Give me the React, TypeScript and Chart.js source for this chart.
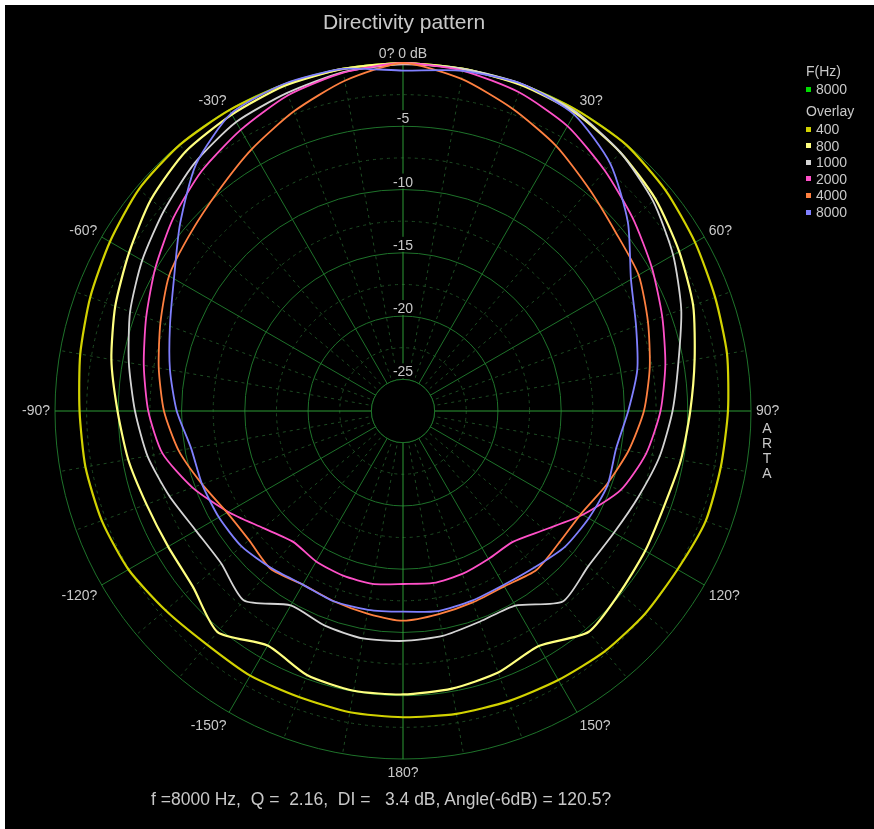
import React, { useEffect, useRef } from 'react';
import { Chart, registerables } from 'chart.js';

Chart.register(...registerables);

// Measurement angles (degrees, clockwise from 0° on-axis)
const ANGLES = [0, 10, 20, 30, 40, 50, 60, 70, 80, 90, 100, 110, 120, 130, 140, 150, 160, 170, 180,
  -170, -160, -150, -140, -130, -120, -110, -100, -90, -80, -70, -60, -50, -40, -30, -20, -10];

// Relative level (dB) per angle for each overlay frequency
const DB_400 = [0, -0.05, -0.05, -0.05, -0.05, -0.4, -0.85, -1.25, -1.5, -1.82, -2.0, -2.05, -2.45, -2.55, -2.7, -2.95, -3.1, -3.2, -3.3,
  -3.33, -3.45, -3.35, -3.4, -3.0, -2.45, -2.17, -2.02, -1.94, -1.6, -1.2, -0.76, -0.25, -0.05, -0.05, -0.05, -0.05];
const DB_800 = [0, -0.05, -0.1, -0.3, -0.8, -1.45, -2.3, -3.1, -4.1, -4.8, -5.2, -5.54, -5.4, -5.15, -4.7, -6.05, -5.5, -5.22, -5.1,
  -5.05, -5.3, -6.1, -4.7, -5.85, -6.07, -5.93, -5.45, -4.94, -4.1, -3.3, -2.5, -1.5, -0.75, -0.45, -0.15, -0.05];
const DB_1000 = [-0.1, -0.05, 0, -0.2, -0.8, -1.7, -2.85, -4.1, -5.4, -6.2, -6.9, -7.7, -8.25, -8.4, -7.85, -9.75, -9.78, -9.45, -9.33,
  -9.25, -9.45, -9.76, -7.95, -8.75, -8.6, -7.85, -7.0, -6.32, -5.5, -4.55, -3.7, -2.85, -1.9, -1.13, -0.75, -0.3];
const DB_2000 = [0, -0.2, -0.7, -1.5, -2.7, -3.8, -4.8, -5.7, -6.45, -7.15, -8.0, -9.2, -11.1, -12.9, -14.0, -14.0, -13.8, -13.7, -13.83,
  -13.63, -13.65, -13.77, -14.0, -13.1, -11.55, -9.8, -8.2, -7.37, -6.7, -5.9, -4.9, -3.8, -2.75, -1.85, -0.95, -0.35];
const DB_4000 = [0, -0.85, -2.1, -3.3, -4.6, -5.55, -6.0, -6.9, -7.7, -8.46, -9.4, -10.4, -11.25, -11.36, -11.1, -11.5, -11.4, -11.2, -10.93,
  -11.25, -11.5, -11.66, -11.22, -11.62, -11.45, -10.6, -9.5, -8.61, -7.9, -7.1, -6.15, -5.6, -4.8, -3.6, -2.3, -1.0];
const DB_8000 = [-0.6, -0.2, 0, -0.45, -2.0, -4.3, -6.7, -7.9, -8.7, -9.7, -10.4, -10.3, -10.55, -10.8, -11.35, -11.62, -11.55, -11.45, -11.64,
  -11.55, -11.5, -11.66, -11.3, -10.85, -10.7, -10.6, -10.5, -9.62, -8.8, -7.9, -6.6, -4.5, -2.05, -0.35, 0, -0.05];

const FREQS = ['400', '800', '1000', '2000', '4000', '8000'];
const SERIES = [DB_400, DB_800, DB_1000, DB_2000, DB_4000, DB_8000];
const COLORS = ['#d2d200', '#ffff80', '#d4d4d4', '#ff50c8', '#ff8040', '#8080ff'];

const CURRENT_FREQ = '8000';
const CURRENT_COLOR = '#00dd00';

const LABEL_ANGLES = [0, 30, 60, 90, 120, 150, 180, -150, -120, -90, -60, -30];
const LABEL_TEXTS = ['0? 0 dB', '30?', '60?', '90?', '120?', '150?', '180?', '-150?', '-120?', '-90?', '-60?', '-30?'];
const TICK_VALUES = [-5, -10, -15, -20, -25];

const R_MIN = -27.5;
const R_MAX = 0;
const R_STEP = 2.5;

const TITLE = 'Directivity pattern';
const FOOTER = 'f =8000 Hz,  Q =  2.16,  DI =   3.4 dB, Angle(-6dB) = 120.5?';
const BRAND = ['A', 'R', 'T', 'A'];

const FONT = '"Liberation Sans", Arial, Helvetica, sans-serif';
const TEXT_COLOR = '#c8c8c8';
const AXIS_GREEN = '#2c9a34';
const MAJOR_GREEN = '#1e722a';
const MINOR_GREEN = '#1d4a22';

const isMajor = (v: number) => Math.abs(Math.round(v / 5) * 5 - v) < 0.01;

const decorPlugin = {
  id: 'polarDecor',
  beforeDatasetsDraw(chart: any) {
    const s = chart.scales.r;
    const ctx = chart.ctx as CanvasRenderingContext2D;
    ctx.save();
    // inner hole at -25 dB
    const r25 = s.getDistanceFromCenterForValue(-25);
    ctx.beginPath();
    ctx.arc(s.xCenter, s.yCenter, r25, 0, Math.PI * 2);
    ctx.fillStyle = '#000';
    ctx.fill();
    ctx.strokeStyle = MAJOR_GREEN;
    ctx.lineWidth = 1;
    ctx.stroke();

    // radial tick labels
    ctx.font = `14px ${FONT}`;
    ctx.textAlign = 'center';
    ctx.textBaseline = 'alphabetic';
    TICK_VALUES.forEach((v) => {
      const y = s.yCenter - s.getDistanceFromCenterForValue(v);
      const t = String(v);
      const w = ctx.measureText(t).width;
      ctx.fillStyle = '#000';
      ctx.fillRect(s.xCenter - w / 2 - 2, y - 16, w + 4, 15);
      ctx.fillStyle = TEXT_COLOR;
      ctx.fillText(t, s.xCenter, y - 3);
    });

    // angle labels
    LABEL_ANGLES.forEach((deg, k) => {
      const idx = ANGLES.indexOf(deg);
      const p = s.getPointPosition(idx, s.drawingArea + 5);
      const a = ((deg % 360) + 360) % 360;
      if (a === 0 || a === 180) ctx.textAlign = 'center';
      else if (a < 180) ctx.textAlign = 'left';
      else ctx.textAlign = 'right';
      let y = p.y;
      if (a === 90 || a === 270) ctx.textBaseline = 'middle';
      else if (a < 90 || a > 270) ctx.textBaseline = 'alphabetic';
      else { ctx.textBaseline = 'top'; y += 2; }
      ctx.fillStyle = TEXT_COLOR;
      ctx.fillText(LABEL_TEXTS[k], p.x, y);
    });
    ctx.restore();
  },
};

function Txt(props: { x: number; cy: number; fs: number; text: string; center?: boolean; color?: string }) {
  const { x, cy, fs, text, center, color } = props;
  return (
    <div
      style={{
        position: 'absolute',
        left: x,
        top: cy - 0.49 * fs,
        fontSize: fs,
        lineHeight: `${fs}px`,
        fontFamily: FONT,
        color: color || TEXT_COLOR,
        whiteSpace: 'pre',
        transform: center ? 'translateX(-50%)' : undefined,
      }}
    >
      {text}
    </div>
  );
}

export default function App() {
  const ref = useRef<HTMLCanvasElement>(null);

  useEffect(() => {
    if (!ref.current) return;
    const chart = new Chart(ref.current, {
      type: 'radar',
      data: {
        labels: ANGLES.map((a) => `${a}`),
        datasets: SERIES.map((d, i) => ({
          label: FREQS[i],
          data: d,
          borderColor: COLORS[i],
          backgroundColor: COLORS[i],
          borderWidth: i < 2 ? 2.2 : 1.8,
          pointRadius: 0,
          pointHoverRadius: 0,
          fill: false,
          tension: 0.22,
          order: SERIES.length - i,
        })),
      },
      options: {
        responsive: false,
        animation: false,
        events: [],
        layout: { padding: { left: 50, top: 58, right: 123, bottom: 70 } },
        plugins: { legend: { display: false }, tooltip: { enabled: false }, title: { display: false } },
        scales: {
          r: {
            min: R_MIN,
            max: R_MAX,
            startAngle: 0,
            ticks: { display: false, stepSize: R_STEP },
            pointLabels: { display: false },
            grid: {
              circular: true,
              lineWidth: 1,
              color: (c: any) => (c.tick && isMajor(c.tick.value) ? MAJOR_GREEN : MINOR_GREEN),
            },
            border: {
              dash: (c: any) => (c.tick && isMajor(c.tick.value) ? [] : [3, 4]),
            },
            angleLines: {
              lineWidth: 1,
              color: (c: any) => (c.index % 9 === 0 ? AXIS_GREEN : c.index % 3 === 0 ? MAJOR_GREEN : MINOR_GREEN),
              borderDash: (c: any) => (c.index % 3 === 0 ? [] : [3, 4]),
            },
          } as any,
        },
      },
      plugins: [decorPlugin],
    });
    return () => chart.destroy();
  }, []);

  const legendRows = [129, 145.7, 162.3, 178.8, 195.3, 212];

  return (
    <div>
      <div style={{ position: 'absolute', left: 5, top: 5, width: 869, height: 824, background: '#000' }}>
        <canvas ref={ref} width={869} height={824} style={{ display: 'block', width: 869, height: 824 }} />
      </div>
      <Txt x={404} cy={21.5} fs={21} text={TITLE} center />
      <Txt x={806} cy={70.7} fs={14} text="F(Hz)" />
      <div style={{ position: 'absolute', left: 806, top: 87, width: 5, height: 5, background: CURRENT_COLOR }} />
      <Txt x={816} cy={89.3} fs={14} text={CURRENT_FREQ} />
      <Txt x={806} cy={111} fs={14} text="Overlay" />
      {FREQS.map((f, i) => (
        <React.Fragment key={f + i}>
          <div
            style={{ position: 'absolute', left: 806, top: legendRows[i] - 2.5, width: 5, height: 5, background: COLORS[i] }}
          />
          <Txt x={816} cy={legendRows[i]} fs={14} text={f} />
        </React.Fragment>
      ))}
      {BRAND.map((ch, i) => (
        <Txt key={i} x={767} cy={428 + i * 15} fs={14} text={ch} center />
      ))}
      <Txt x={151} cy={800} fs={17.5} text={FOOTER} />
    </div>
  );
}
